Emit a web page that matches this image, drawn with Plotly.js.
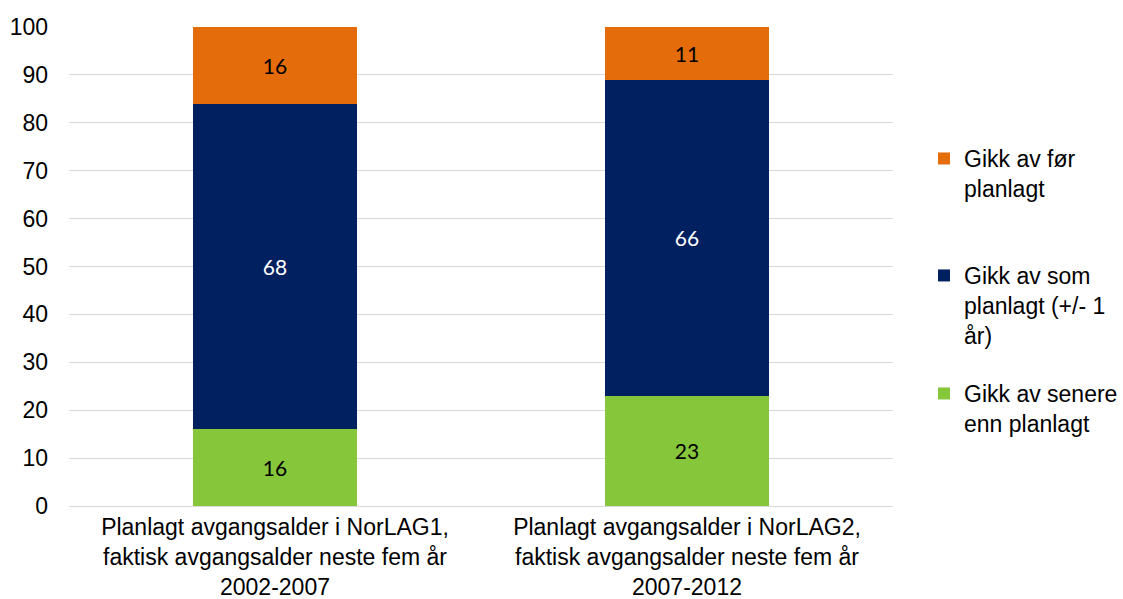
<!DOCTYPE html>
<html>
<head>
<meta charset="utf-8">
<script src="https://cdn.plot.ly/plotly-3.0.1.min.js"></script>
<style>html,body{margin:0;padding:0;background:#fff;}#chart{width:1123px;height:599px;}</style>
</head>
<body>
<div id="chart"></div>
<script>
const categories = [
  "Planlagt avgangsalder i NorLAG1,<br>faktisk avgangsalder neste fem år<br>2002-2007",
  "Planlagt avgangsalder i NorLAG2,<br>faktisk avgangsalder neste fem år<br>2007-2012"
];
const seriesNames = [
  "Gikk av senere<br>enn planlagt",
  "Gikk av som<br>planlagt (+/- 1<br>år)",
  "Gikk av før<br>planlagt"
];
const laterValues = [16, 23];
const asPlannedValues = [68, 66];
const earlierValues = [16, 11];
const yTicks = [0, 10, 20, 30, 40, 50, 60, 70, 80, 90, 100];

const colors = ["#85C63B", "#002060", "#E46C0A"];
const labelColors = ["#000000", "#FFFFFF", "#000000"];
const legendIds = ["legend3", "legend2", "legend"];
const allValues = [laterValues, asPlannedValues, earlierValues];

const traces = allValues.map((vals, i) => ({
  type: "bar",
  x: categories,
  y: vals,
  name: seriesNames[i],
  legend: legendIds[i],
  marker: {color: colors[i], line: {width: 0}},
  text: vals.map(v => String(v)),
  textposition: "inside",
  insidetextanchor: "middle",
  textangle: 0,
  constraintext: "none",
  textfont: {family: "Lato, 'Open Sans', sans-serif", size: 21, color: labelColors[i]},
  hoverinfo: "skip"
}));

const legendBase = {
  xref: "container", yref: "container", xanchor: "left", yanchor: "top",
  bgcolor: "rgba(0,0,0,0)", borderwidth: 0, valign: "top",
  font: {family: "'Liberation Sans', Arial, sans-serif", size: 23, color: "#000"}
};

const layout = {
  width: 1123, height: 599,
  margin: {l: 69, r: 230, t: 27, b: 93, autoexpand: false},
  paper_bgcolor: "#fff", plot_bgcolor: "#fff",
  barmode: "stack",
  bargap: 0.6,
  showlegend: true,
  font: {family: "'Liberation Sans', Arial, sans-serif", color: "#000"},
  xaxis: {
    type: "category",
    tickfont: {size: 23, color: "#000"},
    showline: false, ticks: "", showgrid: false, zeroline: false,
    ticklabelstandoff: 5
  },
  yaxis: {
    range: [0, 100],
    tickvals: yTicks,
    ticktext: yTicks.map(String),
    tickfont: {size: 23, color: "#000"},
    showgrid: true, gridcolor: "#D9D9D9", gridwidth: 1,
    zeroline: true, zerolinecolor: "#D9D9D9", zerolinewidth: 1,
    showline: false, ticks: "",
    ticklabelstandoff: 20
  },
  legend: Object.assign({}, legendBase, {x: 924/1123, y: 1 - 137/599}),
  legend2: Object.assign({}, legendBase, {x: 924/1123, y: 1 - 254/599}),
  legend3: Object.assign({}, legendBase, {x: 924/1123, y: 1 - 372/599})
};

Plotly.newPlot("chart", traces, layout, {displayModeBar: false, staticPlot: true});
</script>
</body>
</html>
